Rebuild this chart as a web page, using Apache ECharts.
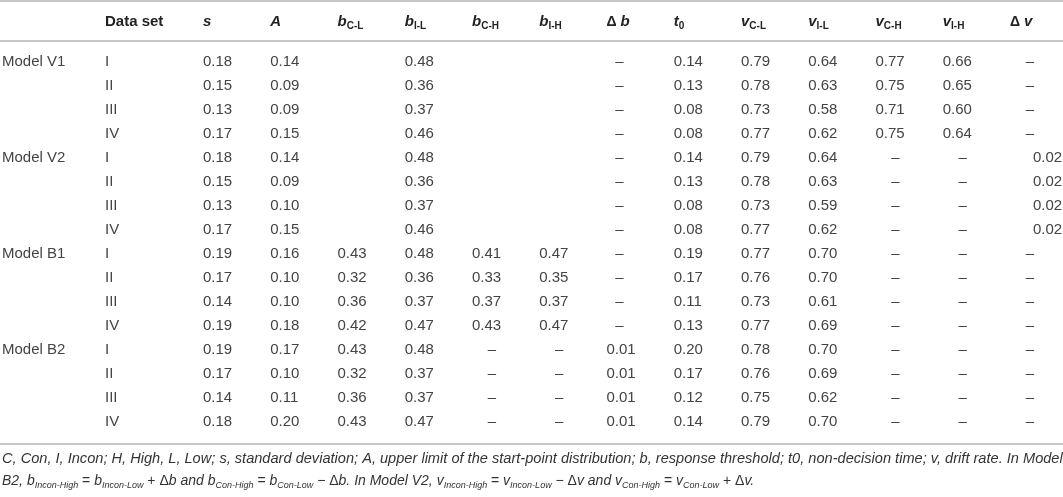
<!DOCTYPE html>
<html lang="en">
<head>
    <meta charset="UTF-8">
    <title>Model parameters</title>
    <script src="https://cdn.jsdelivr.net/npm/echarts@6/dist/echarts.min.js"></script>
    <style>
        html, body { margin: 0; padding: 0; background: #fff; }
        #main { width: 1063px; height: 497px; }
    </style>
</head>
<body>
<div id="main"></div>
<script type="text/javascript">
    // table content
    var models = ['Model V1', 'Model V2', 'Model B1', 'Model B2'];
    var dataSets = ['I', 'II', 'III', 'IV'];
    var D = '–';
    var colKeys = ['s', 'A', 'bCL', 'bIL', 'bCH', 'bIH', 'db', 't0', 'vCL', 'vIL', 'vCH', 'vIH', 'dv'];

    // each column: V1 I-IV, V2 I-IV, B1 I-IV, B2 I-IV  (null = empty cell)
    var s   = [0.18, 0.15, 0.13, 0.17, 0.18, 0.15, 0.13, 0.17, 0.19, 0.17, 0.14, 0.19, 0.19, 0.17, 0.14, 0.18];
    var A   = [0.14, 0.09, 0.09, 0.15, 0.14, 0.09, 0.10, 0.15, 0.16, 0.10, 0.10, 0.18, 0.17, 0.10, 0.11, 0.20];
    var bCL = [null, null, null, null, null, null, null, null, 0.43, 0.32, 0.36, 0.42, 0.43, 0.32, 0.36, 0.43];
    var bIL = [0.48, 0.36, 0.37, 0.46, 0.48, 0.36, 0.37, 0.46, 0.48, 0.36, 0.37, 0.47, 0.48, 0.37, 0.37, 0.47];
    var bCH = [null, null, null, null, null, null, null, null, 0.41, 0.33, 0.37, 0.43, D, D, D, D];
    var bIH = [null, null, null, null, null, null, null, null, 0.47, 0.35, 0.37, 0.47, D, D, D, D];
    var db  = [D, D, D, D, D, D, D, D, D, D, D, D, 0.01, 0.01, 0.01, 0.01];
    var t0  = [0.14, 0.13, 0.08, 0.08, 0.14, 0.13, 0.08, 0.08, 0.19, 0.17, 0.11, 0.13, 0.20, 0.17, 0.12, 0.14];
    var vCL = [0.79, 0.78, 0.73, 0.77, 0.79, 0.78, 0.73, 0.77, 0.77, 0.76, 0.73, 0.77, 0.78, 0.76, 0.75, 0.79];
    var vIL = [0.64, 0.63, 0.58, 0.62, 0.64, 0.63, 0.59, 0.62, 0.70, 0.70, 0.61, 0.69, 0.70, 0.69, 0.62, 0.70];
    var vCH = [0.77, 0.75, 0.71, 0.75, D, D, D, D, D, D, D, D, D, D, D, D];
    var vIH = [0.66, 0.65, 0.60, 0.64, D, D, D, D, D, D, D, D, D, D, D, D];
    var dv  = [D, D, D, D, 0.02, 0.02, 0.02, 0.02, D, D, D, D, D, D, D, D];

    var table = {s: s, A: A, bCL: bCL, bIL: bIL, bCH: bCH, bIH: bIH, db: db, t0: t0, vCL: vCL, vIL: vIL, vCH: vCH, vIH: vIH, dv: dv};

    // header text (rich markup)
    var headers = {
        s: '{bi|s}', A: '{bi|A}',
        bCL: '{bi|b}{sub|C-L}', bIL: '{bi|b}{sub|I-L}', bCH: '{bi|b}{sub|C-H}', bIH: '{bi|b}{sub|I-H}',
        db: '{bd|Δ }{bi|b}', t0: '{bi|t}{sub|0}',
        vCL: '{bi|v}{sub|C-L}', vIL: '{bi|v}{sub|I-L}', vCH: '{bi|v}{sub|C-H}', vIH: '{bi|v}{sub|I-H}',
        dv: '{bd|Δ }{bi|v}'
    };

    var note1 = 'C, Con, I, Incon; H, High, L, Low; s, standard deviation; A, upper limit of the start-point distribution; b, response threshold; t0, non-decision time; v, drift rate. In Model';

    var BODY_FONT = '"Liberation Sans", Arial, sans-serif';
    var NOTE_FONT = '"Liberation Sans Narrow", "Liberation Sans", Arial, sans-serif';
    var TXT = '#444';

    var nRows = models.length * dataSets.length;
    var rowIdx = [];
    for (var i = 0; i < nRows; i++) rowIdx.push(String(i));

    // left part: model / data set
    var leftCells = [];
    models.forEach(function (m, mi) {
        dataSets.forEach(function (d, di) {
            var r = mi * dataSets.length + di;
            if (di === 0) leftCells.push({value: [0, r], txt: m});
            leftCells.push({value: [1, r], txt: d});
        });
    });

    // value cells
    var cells = [];
    colKeys.forEach(function (k, c) {
        table[k].forEach(function (v, r) {
            if (v === null) return;
            cells.push({value: [c, r], txt: v === D ? D : v.toFixed(2), dash: v === D, key: k});
        });
    });

    // small nudges for dash / number placement inside a column
    var dashDx = {db: 13, dv: 20};
    var numDx = {dv: 23};

    var headRich = {
        bi: {fontFamily: BODY_FONT, fontSize: 15, fontWeight: 'bold', fontStyle: 'italic', color: '#222', lineHeight: 18},
        bd: {fontFamily: BODY_FONT, fontSize: 14, fontWeight: 'bold', color: '#222', lineHeight: 18},
        b: {fontFamily: BODY_FONT, fontSize: 15, fontWeight: 'bold', color: '#222', lineHeight: 18},
        sub: {fontFamily: BODY_FONT, fontSize: 10, fontWeight: 'bold', color: '#222', verticalAlign: 'bottom'}
    };

    var myChart = echarts.init(document.getElementById('main'));

    var option = {
        animation: false,
        grid: [
            {left: 2, top: 62, width: 103, height: 360, outerBoundsMode: 'none'},
            {left: 203, top: 62, width: 807, height: 360, outerBoundsMode: 'none'}
        ],
        xAxis: [
            {
                gridIndex: 0, type: 'category', position: 'top', boundaryGap: false,
                data: ['', 'Data set'],
                axisLine: {show: false}, axisTick: {show: false}, splitLine: {show: false},
                axisLabel: {
                    interval: 0, align: 'left', verticalAlign: 'middle', margin: 40,
                    formatter: function (v) { return v ? '{b|' + v + '}' : ''; },
                    rich: headRich
                }
            },
            {
                gridIndex: 1, type: 'category', position: 'top', boundaryGap: false,
                data: colKeys,
                axisLine: {show: false}, axisTick: {show: false}, splitLine: {show: false},
                axisLabel: {
                    interval: 0, align: 'left', verticalAlign: 'middle', margin: 40,
                    formatter: function (k) { return headers[k]; },
                    rich: headRich
                }
            }
        ],
        yAxis: [
            {gridIndex: 0, type: 'category', inverse: true, boundaryGap: false, data: rowIdx, show: false},
            {gridIndex: 1, type: 'category', inverse: true, boundaryGap: false, data: rowIdx, show: false}
        ],
        series: [
            {
                type: 'custom', xAxisIndex: 0, yAxisIndex: 0, clip: false,
                data: leftCells,
                renderItem: function (params, api) {
                    var p = api.coord([api.value(0), api.value(1)]);
                    return {
                        type: 'text', x: p[0], y: p[1],
                        style: {text: leftCells[params.dataIndex].txt, fill: TXT, fontFamily: BODY_FONT, fontSize: 15, align: 'left', verticalAlign: 'middle'}
                    };
                }
            },
            {
                type: 'custom', xAxisIndex: 1, yAxisIndex: 1, clip: false,
                data: cells,
                renderItem: function (params, api) {
                    var cell = cells[params.dataIndex];
                    var p = api.coord([api.value(0), api.value(1)]);
                    var dx = cell.dash ? (dashDx[cell.key] != null ? dashDx[cell.key] : 20) : (numDx[cell.key] || 0);
                    return {
                        type: 'text', x: p[0] + dx, y: p[1],
                        style: {text: cell.txt, fill: TXT, fontFamily: BODY_FONT, fontSize: 15, align: cell.dash ? 'center' : 'left', verticalAlign: 'middle'}
                    };
                }
            }
        ],
        graphic: [
            {type: 'line', shape: {x1: 0, y1: 1, x2: 1063, y2: 1}, style: {stroke: '#c8c8c8', lineWidth: 2}},
            {type: 'line', shape: {x1: 0, y1: 41, x2: 1063, y2: 41}, style: {stroke: '#c8c8c8', lineWidth: 2}},
            {type: 'line', shape: {x1: 0, y1: 444, x2: 1063, y2: 444}, style: {stroke: '#c8c8c8', lineWidth: 2}},
            {
                type: 'text', x: 2, y: 459,
                style: {text: note1, fill: '#333', fontFamily: NOTE_FONT, fontSize: 14.6, fontStyle: 'italic', verticalAlign: 'middle'}
            },
            {
                type: 'text', x: 2, y: 481,
                style: {
                    text: '{i|B2, b}{s|Incon-High}{r| = }{i|b}{s|Incon-Low}{r| + Δ}{i|b and b}{s|Con-High}{r| = }{i|b}{s|Con-Low}{r| − Δ}{i|b. In Model V2, v}{s|Incon-High}{r| = }{i|v}{s|Incon-Low}{r| − Δ}{i|v and v}{s|Con-High}{r| = }{i|v}{s|Con-Low}{r| + Δ}{i|v.}',
                    verticalAlign: 'middle',
                    rich: {
                        i: {fill: '#333', fontFamily: NOTE_FONT, fontSize: 14, fontStyle: 'italic', lineHeight: 18},
                        r: {fill: '#333', fontFamily: NOTE_FONT, fontSize: 14, lineHeight: 18},
                        s: {fill: '#333', fontFamily: NOTE_FONT, fontSize: 9, fontStyle: 'italic', verticalAlign: 'bottom'}
                    }
                }
            }
        ]
    };

    myChart.setOption(option);
</script>
</body>
</html>
